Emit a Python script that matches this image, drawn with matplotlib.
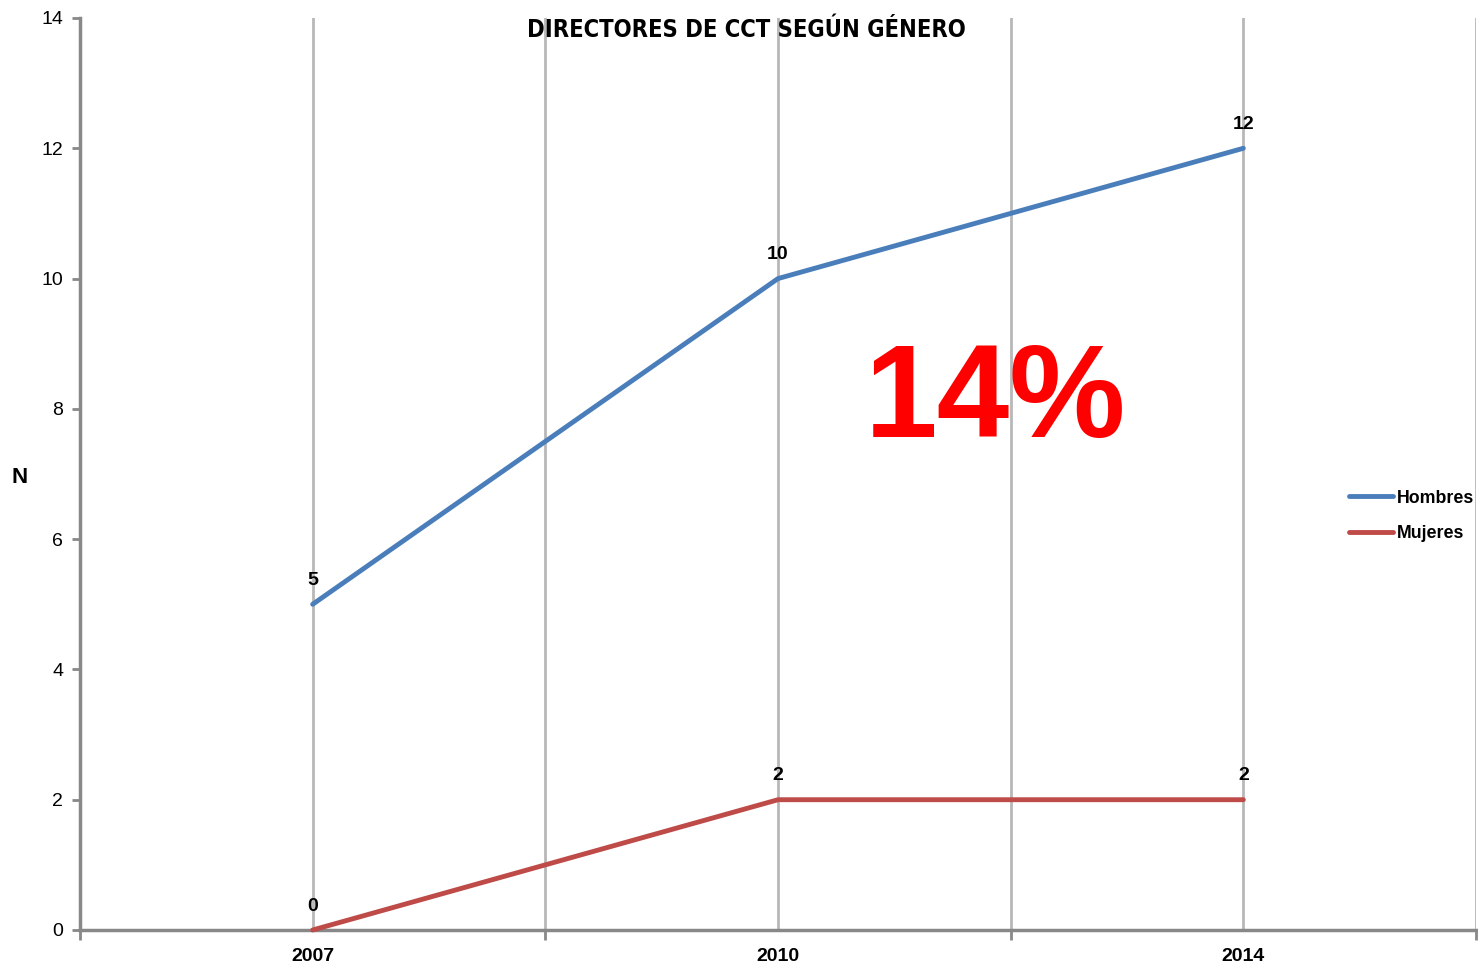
import matplotlib
matplotlib.use("Agg")
import matplotlib.pyplot as plt
from matplotlib.ticker import FixedLocator, NullFormatter, FixedFormatter

years = ["2007", "2010", "2014"]
hombres = [5, 10, 12]
mujeres = [0, 2, 2]
title = "DIRECTORES DE CCT SEGÚN GÉNERO"
big_label = "14%"

plt.rcParams['font.family'] = ['Liberation Sans', 'DejaVu Sans']

fig = plt.figure(figsize=(14.78, 9.77), dpi=100)
ax = fig.add_axes([80/1478, 1-930/977, (1476-80)/1478, (930-18)/977])

xs = [i + 0.5 for i in range(len(years))]
blue = "#4A7EBB"
red = "#BE4B48"
ax.plot(xs, hombres, color=blue, lw=3.5, solid_capstyle='round', label="Hombres", zorder=3, clip_on=False)
ax.plot(xs, mujeres, color=red, lw=3.5, solid_capstyle='round', label="Mujeres", zorder=3, clip_on=False)

for x, v in zip(xs, hombres):
    ax.annotate(str(v), (x, v), xytext=(0, 11), textcoords='offset points', ha='center', va='bottom',
                fontsize=14, fontweight='bold')
for x, v in zip(xs, mujeres):
    ax.annotate(str(v), (x, v), xytext=(0, 11), textcoords='offset points', ha='center', va='bottom',
                fontsize=14, fontweight='bold')

ax.set_xlim(0, len(years))
ax.set_ylim(0, 14)
ax.set_yticks(range(0, 15, 2))
ax.tick_params(axis='y', labelsize=14, length=6, width=2, color='#888888', pad=6)

ax.xaxis.set_major_locator(FixedLocator([0, 1, 2, 3]))
ax.xaxis.set_major_formatter(NullFormatter())
ax.xaxis.set_minor_locator(FixedLocator(xs))
ax.xaxis.set_minor_formatter(FixedFormatter(years))
ax.tick_params(axis='x', which='major', length=7, width=2, color='#888888', direction='out')
ax.tick_params(axis='x', which='minor', length=0, labelsize=14, pad=13)
for lab in ax.xaxis.get_minorticklabels():
    lab.set_fontweight('bold')

ax.grid(True, axis='x', which='both', color='#B8B8B8', lw=2)
ax.grid(False, axis='y')
ax.set_axisbelow(True)

for s in ['top', 'right']:
    ax.spines[s].set_visible(False)
for s in ['left', 'bottom']:
    ax.spines[s].set_color('#888888')
    ax.spines[s].set_linewidth(2.5)

ax.set_ylabel("N", fontsize=16, fontweight='bold', rotation=0, labelpad=0, va='center', ha='center')
ax.yaxis.set_label_coords(-60/1396, (930-478)/912)

fig.text(746/1478, 1-30/977, title, ha='center', va='center', fontsize=17, fontweight='bold',
         family='DejaVu Sans', fontstretch='condensed')

ax.text(1.967, 7.57, big_label, color='#FF0000', fontsize=94, fontweight='bold', ha='center', va='baseline')

leg = ax.legend(loc='center left', bbox_to_anchor=(1342/1478, 1-516/977), bbox_transform=fig.transFigure,
                frameon=False, handlelength=2.45, handletextpad=0.25, labelspacing=1.05, borderaxespad=0,
                prop={'weight': 'bold', 'size': 12.8})

fig.savefig("out.png", dpi=100)
